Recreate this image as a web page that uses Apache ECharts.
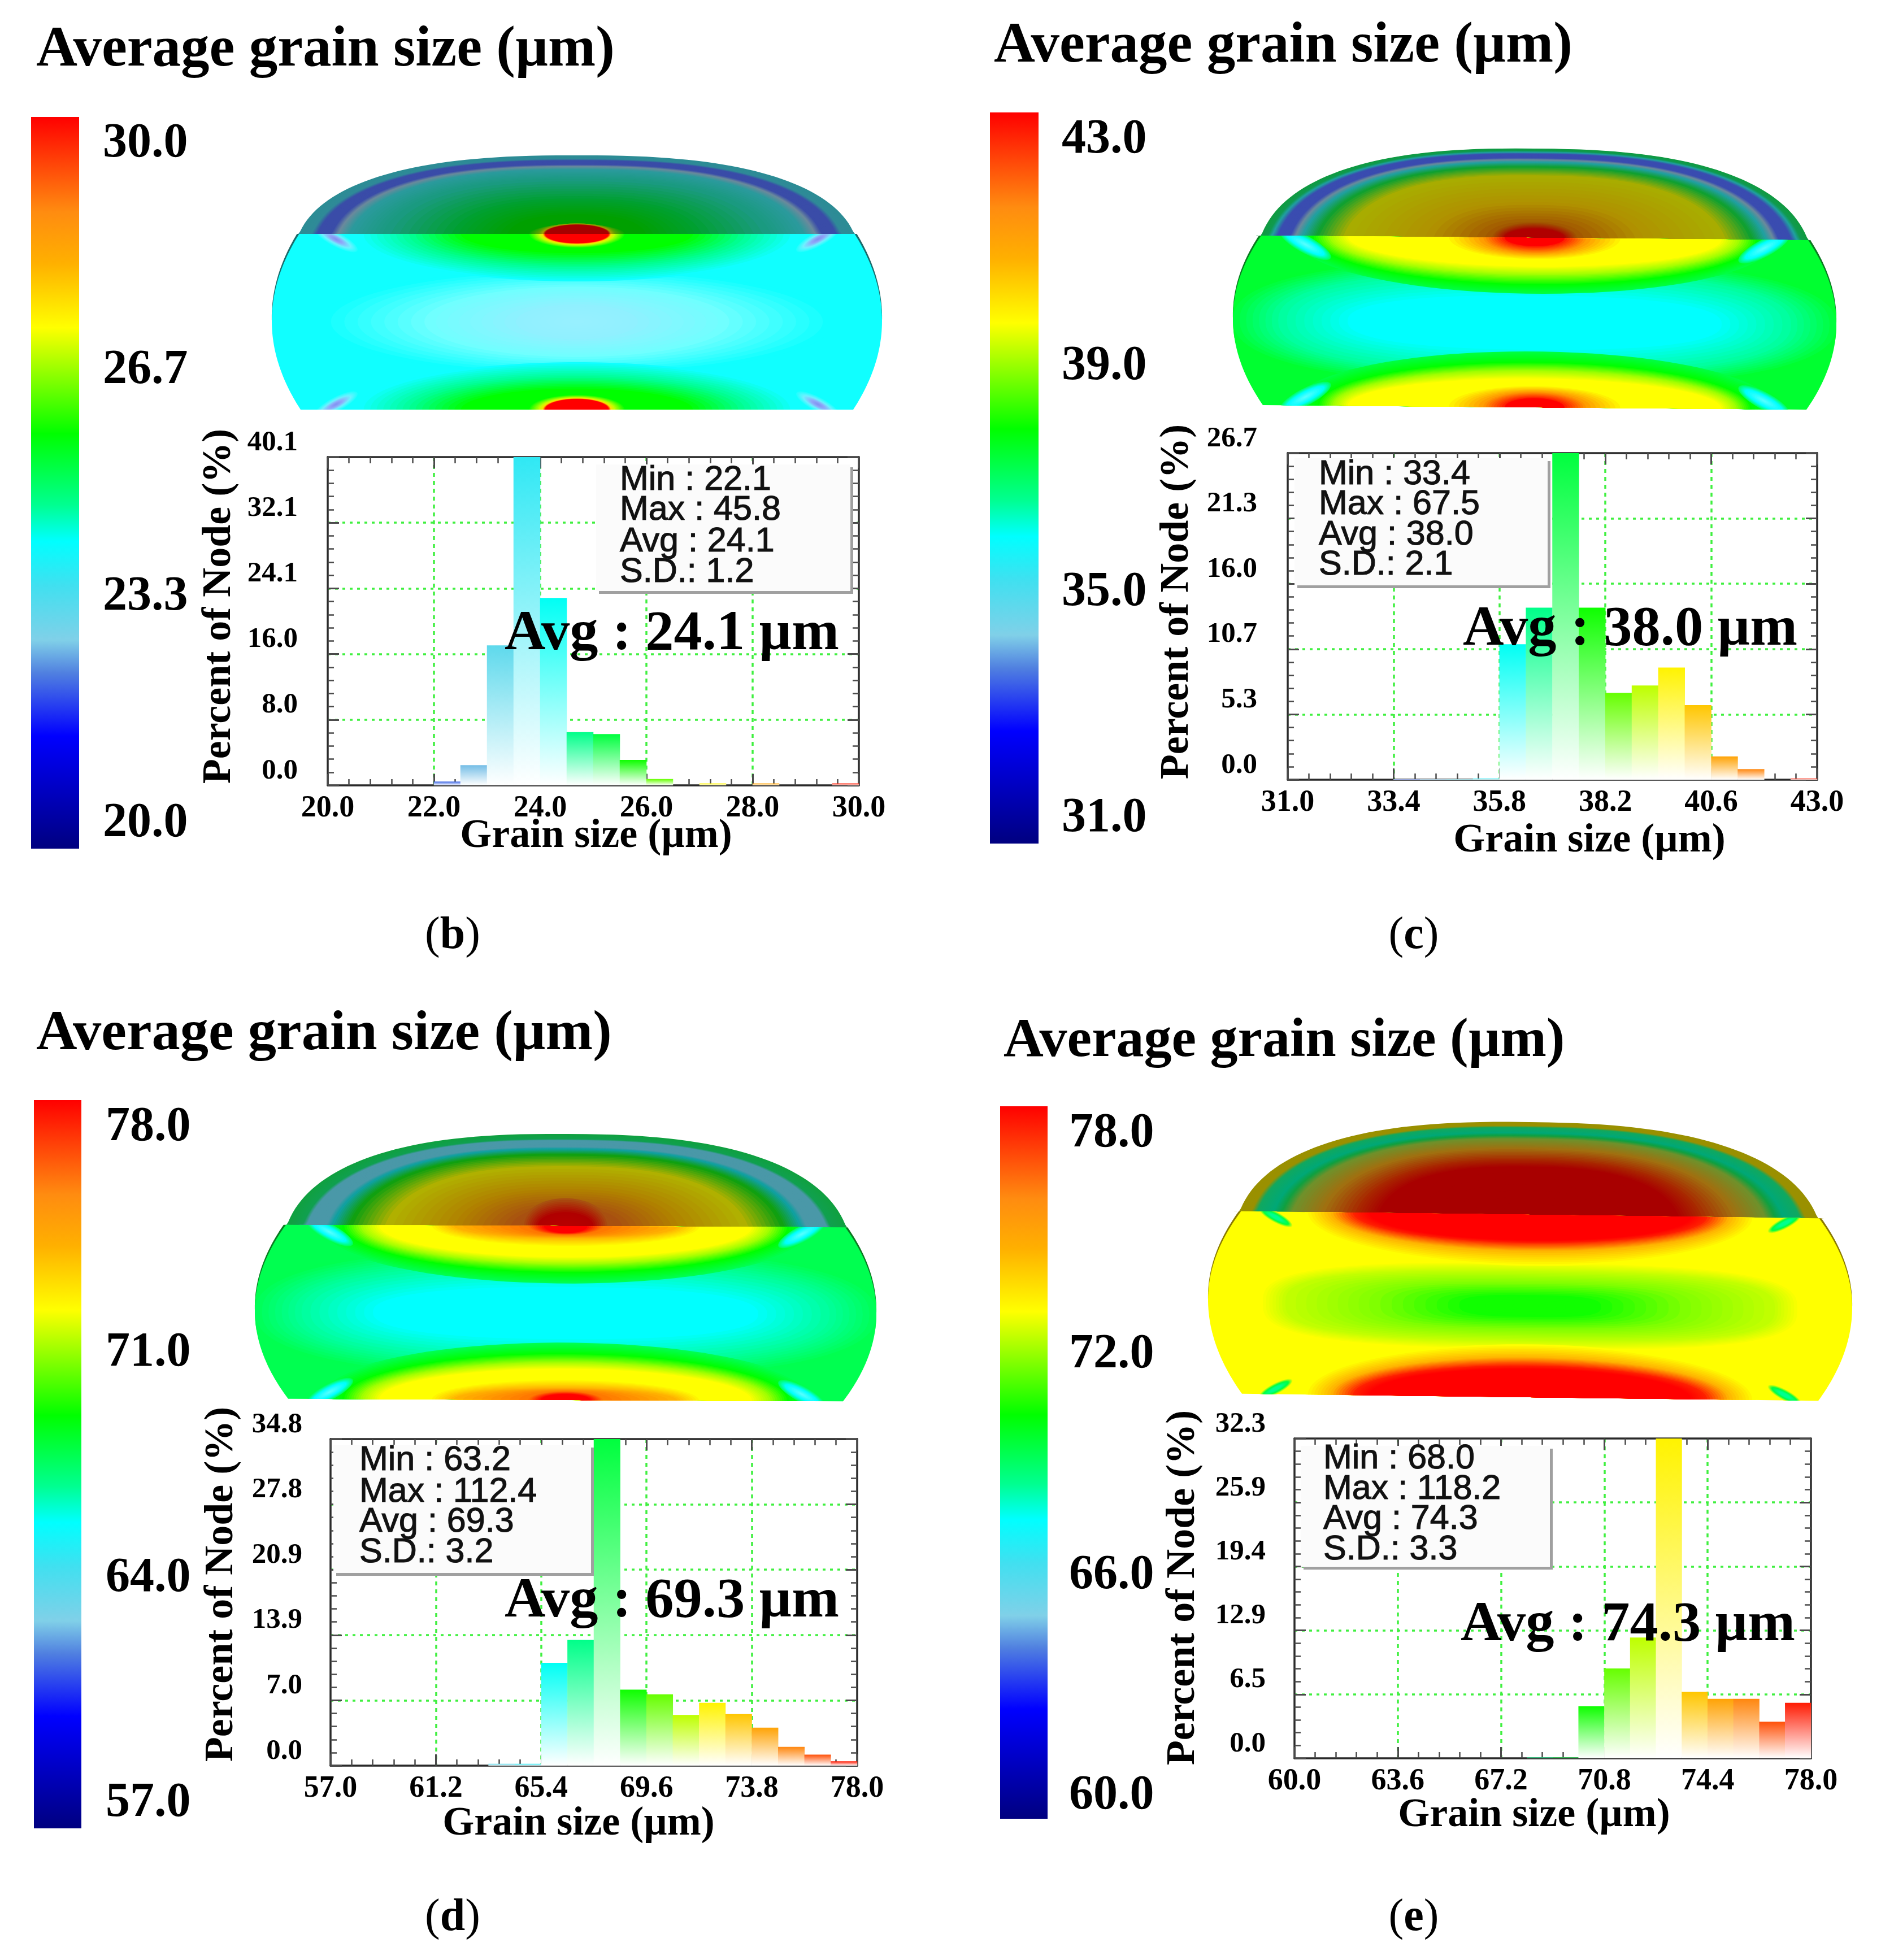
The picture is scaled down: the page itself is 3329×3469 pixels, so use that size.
<!DOCTYPE html>
<html><head><meta charset="utf-8">
<style>html,body{margin:0;padding:0;background:#fff}#c{width:3329px;height:3469px}</style>
<script src="https://cdn.jsdelivr.net/npm/echarts@6/dist/echarts.min.js"></script>
</head><body><div id="c"></div>
<script>
// ---------- data ----------
const titleText = 'Average grain size (µm)';
const xTitle = 'Grain size (µm)';
const yTitle = 'Percent of Node (%)';

const valuesB = [0,0,0,0,0.46,2.46,17.1,40.1,22.9,6.5,6.26,3.1,0.77,0,0.25,0,0.25,0,0,0.25];
const valuesC = [0,0,0,0,0.05,0.05,0.05,0.1,11.08,14.07,26.7,14.07,7.1,7.7,9.17,6.1,1.9,0.87,0,0.1];
const valuesD = [0,0,0,0,0,0,0.2,0.2,10.96,13.4,34.8,8.1,7.6,5.4,6.7,5.5,4.05,2.0,1.17,0.46];
const valuesE = [0,0,0,0,0,0,0,0,0,0.08,0.08,5.25,9.07,12.2,32.3,6.7,6.0,6.0,3.7,5.6];

const xTicksB = ['20.0','22.0','24.0','26.0','28.0','30.0'];
const xTicksC = ['31.0','33.4','35.8','38.2','40.6','43.0'];
const xTicksD = ['57.0','61.2','65.4','69.6','73.8','78.0'];
const xTicksE = ['60.0','63.6','67.2','70.8','74.4','78.0'];

const yTicksB = ['0.0','8.0','16.0','24.1','32.1','40.1'];
const yTicksC = ['0.0','5.3','10.7','16.0','21.3','26.7'];
const yTicksD = ['0.0','7.0','13.9','20.9','27.8','34.8'];
const yTicksE = ['0.0','6.5','12.9','19.4','25.9','32.3'];

const barTicksB = ['20.0','23.3','26.7','30.0'];
const barTicksC = ['31.0','35.0','39.0','43.0'];
const barTicksD = ['57.0','64.0','71.0','78.0'];
const barTicksE = ['60.0','66.0','72.0','78.0'];

const statsB = ['Min : 22.1','Max : 45.8','Avg : 24.1','S.D.: 1.2'];
const statsC = ['Min : 33.4','Max : 67.5','Avg : 38.0','S.D.: 2.1'];
const statsD = ['Min : 63.2','Max : 112.4','Avg : 69.3','S.D.: 3.2'];
const statsE = ['Min : 68.0','Max : 118.2','Avg : 74.3','S.D.: 3.3'];

const avgB = 'Avg : 24.1 µm', avgC = 'Avg : 38.0 µm', avgD = 'Avg : 69.3 µm', avgE = 'Avg : 74.3 µm';

// ---------- colour scale (fraction from the top of the colour bar) ----------
const colorStops = [[0,'#ff0000'],[0.13,'#ff8c10'],[0.2,'#ffb000'],[0.288,'#ffff00'],[0.433,'#00ff00'],
  [0.53,'#00ff90'],[0.58,'#00ffff'],[0.64,'#40e0f0'],[0.715,'#80d0e8'],[0.76,'#5080e0'],[0.846,'#0000ff'],[1,'#000080']];

function hex(c){return [1,3,5].map(i=>parseInt(c.substr(i,2),16));}
function mix(c1,c2,f){const a=hex(c1),b=hex(c2);return 'rgb('+a.map((v,i)=>Math.round(v+(b[i]-v)*f)).join(',')+')';}
function scaleColor(t){
  for(let i=1;i<colorStops.length;i++){
    if(t<=colorStops[i][0]){const p=colorStops[i-1],q=colorStops[i];return mix(p[1],q[1],(t-p[0])/(q[0]-p[0]));}
  }
  return colorStops[colorStops.length-1][1];
}

// ---------- layout ----------
const F='"Liberation Serif"';
const panels=[
 {letter:'b',values:valuesB,xT:xTicksB,yT:yTicksB,barT:barTicksB,stats:statsB,avg:avgB,
  title:[64,90,101], cap:[801,1657],
  plot:[580,809,1520,1390], yMargin:53, xT_c:[1055,1480], yT_c:[388,1073],
  bar:[55,207,140,1502], barLab:[181,255,1458],
  box:[1055,822,1505,1046], boxTx:1097, boxY:[850,903,959,1013], avgPos:[893,1123],
  s:{cx:1021,top:275,flat:414,bottom:725,L:529,R:1512,W:540,mid:568,botHW:489,tilt:0,edge:'#1a6a6a'},
  dome:[[1,'#2c8c94'],[.955,'#2f8a98'],[.935,'#3a4ca8'],[.885,'#3a4ca8'],[.86,'#6a8a9c'],[.82,'#2a9a9c'],[.7,'#1a9a80'],[.45,'#00a030'],[.25,'#00a000'],[0,'#00a000']],
  domeHot:[[.16,.055,'#00a000'],[.125,.06,'#60a000'],[.112,.056,'#a8a000'],[.104,.052,'#a80000'],[0,0,'#a80000']],
  base:'#10ffff',
  center:{n:2,c:[[.85,.3,'#10ffff'],[.5,.2,'#70ffff'],[.2,.1,'#90f0ff'],[0,0,'#98f0ff']]},
  hotTop:[[.72,.27,'#10ffff'],[.55,.19,'#00ff90'],[.38,.11,'#00ff00'],[.16,.08,'#00ff00'],[.125,.065,'#c0ff00'],[.112,.058,'#ffe000'],[.104,.052,'#ff0000'],[0,0,'#ff0000']],
  hotBot:[[.72,.27,'#10ffff'],[.55,.19,'#00ff90'],[.38,.12,'#00ff00'],[.16,.085,'#00ff00'],[.125,.07,'#c0ff00'],[.112,.064,'#ffe000'],[.104,.06,'#ff0000'],[0,0,'#ff0000']],
  cornerU:.79,cornerV:.03,
  corner:[[.08,.04,'#20ffff'],[.055,.024,'#70f0ff'],[.025,.012,'#90a8f8'],[0,0,'#8090f0']]},
 {letter:'c',values:valuesC,xT:xTicksC,yT:yTicksC,barT:barTicksC,stats:statsC,avg:avgC,
  title:[1759,83,101], cap:[2502,1657],
  plot:[2279,802,3216,1380], yMargin:54, xT_c:[2813,1488], yT_c:[2083,1065],
  bar:[1752,199,1838,1493], barLab:[1878,248,1449],
  box:[2291,811,2739,1036], boxTx:2334, boxY:[840,893,947,1000], avgPos:[2589,1115],
  s:{cx:2716,top:263,flat:421,bottom:721,L:2232,R:3200,W:534,mid:568,botHW:481,tilt:4.5,edge:'#0a7a20'},
  dome:[[1,'#109a40'],[.975,'#109a50'],[.96,'#20a0a0'],[.94,'#3a4cb0'],[.895,'#3a4cb0'],[.875,'#6a8a9c'],[.85,'#20a0a0'],[.8,'#10a030'],[.7,'#a8ac00'],[.4,'#b09000'],[.15,'#a05000'],[0,'#a05000']],
  domeHot:[[.14,.09,'#a05000'],[.105,.06,'#a81000'],[.096,.052,'#b00000'],[0,0,'#b00000']],
  base:'#00ff30',
  center:{n:2.4,c:[[1.02,.38,'#00ff30'],[.85,.3,'#00ffa0'],[.62,.16,'#00ffff'],[0,0,'#00ffff']]},
  hotTop:[[.8,.33,'#00ff40'],[.74,.28,'#00ff00'],[.68,.22,'#a0ff00'],[.62,.17,'#ffff00'],[.3,.13,'#ffff00'],[.17,.09,'#ff9000'],[.1,.05,'#ff1000'],[.096,.045,'#ff0000'],[0,0,'#ff0000']],
  hotBot:[[.8,.33,'#00ff40'],[.72,.27,'#00ff00'],[.67,.22,'#a0ff00'],[.62,.17,'#ffff00'],[.3,.13,'#ffff00'],[.17,.09,'#ff9000'],[.1,.055,'#ff1000'],[.096,.05,'#ff0000'],[0,0,'#ff0000']],
  cornerU:.76,cornerV:.05,
  corner:[[.095,.05,'#00ff60'],[.07,.03,'#00ffff'],[0,0,'#60ffff']]},
 {letter:'d',values:valuesD,xT:xTicksD,yT:yTicksD,barT:barTicksD,stats:statsD,avg:avgD,
  title:[64,1831,100.5], cap:[801,3395],
  plot:[585,2547,1517,3125], yMargin:50, xT_c:[1024,3228], yT_c:[392,2804],
  bar:[60,1947,144,3236], barLab:[186,1996,3192],
  box:[590,2557,1046,2784], boxTx:636, boxY:[2585,2641,2694,2748], avgPos:[893,2835],
  s:{cx:1001,top:2007,flat:2170,bottom:2478,L:508,R:1498,W:550,mid:2322,botHW:491,tilt:2.5,edge:'#0a7a20'},
  dome:[[1,'#10a040'],[.945,'#10a050'],[.93,'#4a98a8'],[.86,'#4a98a8'],[.84,'#10a0a0'],[.78,'#10a010'],[.65,'#b0b000'],[.4,'#b08000'],[.2,'#a85010'],[0,'#a85010']],
  domeHot:[[.14,.16,'#a85010'],[.09,.08,'#b00000'],[0,0,'#b80000']],
  base:'#00ff50',
  center:{n:2.4,c:[[1.02,.38,'#00ff50'],[.85,.28,'#00ffa0'],[.62,.15,'#00ffff'],[0,0,'#00ffff']]},
  hotTop:[[.8,.33,'#00ff50'],[.72,.27,'#00ff00'],[.66,.22,'#a0ff00'],[.6,.18,'#ffff00'],[.44,.12,'#ffff00'],[.36,.07,'#ffb000'],[.12,.05,'#ff7000'],[.07,.04,'#ff0000'],[0,0,'#ff0000']],
  hotBot:[[.8,.33,'#00ff50'],[.72,.27,'#00ff00'],[.66,.22,'#a0ff00'],[.6,.18,'#ffff00'],[.44,.12,'#ffff00'],[.36,.07,'#ffb000'],[.12,.05,'#ff7000'],[.08,.035,'#ff0000'],[0,0,'#ff0000']],
  cornerU:.76,cornerV:.04,
  corner:[[.085,.045,'#00ff60'],[.06,.026,'#00ffff'],[0,0,'#60ffff']]},
 {letter:'e',values:valuesE,xT:xTicksE,yT:yTicksE,barT:barTicksE,stats:statsE,avg:avgE,
  title:[1776,1844,98], cap:[2502,3395],
  plot:[2291,2546,3205,3112], yMargin:51, xT_c:[2715,3213], yT_c:[2094,2810],
  bar:[1770,1958,1854,3219], barLab:[1891,2007,3179],
  box:[2302,2559,2743,2773], boxTx:2342, boxY:[2582,2636,2689,2743], avgPos:[2585,2877],
  s:{cx:2708,top:1986,flat:2150,bottom:2473,L:2194,R:3217,W:570,mid:2307,botHW:510,tilt:7,edge:'#8a7a00'},
  dome:[[1,'#9a9000'],[.96,'#9a9000'],[.94,'#10a860'],[.885,'#00a878'],[.855,'#10a040'],[.82,'#70902a'],[.72,'#a07010'],[.6,'#a82800'],[.52,'#a80000'],[0,'#a80000']],
  domeHot:null,
  base:'#ffff00',
  center:{n:3,c:[[.84,.24,'#ffff00'],[.76,.19,'#c0ff00'],[.5,.13,'#80ff00'],[.22,.06,'#10ff00'],[0,0,'#10ff00']]},
  hotTop:[[.7,.28,'#ffff00'],[.62,.2,'#ffb000'],[.55,.155,'#ff2000'],[.5,.14,'#ff0000'],[0,0,'#ff0000']],
  hotBot:[[.7,.29,'#ffff00'],[.62,.22,'#ffb000'],[.55,.175,'#ff2000'],[.5,.155,'#ff0000'],[0,0,'#ff0000']],
  cornerU:.79,cornerV:.03,
  corner:[[.06,.03,'#ffff00'],[.045,.018,'#00ff40'],[.02,.008,'#00ff90'],[0,0,'#00ff90']]}
];

// ---------- shaded section drawn as stacks of contour polygons ----------
const SEG=8, N=90;
const DOME_N=2.5, DOME_A=1.02, DOME_C=0.2995, DOME_H=1.428;
function hw(s,y){
  if(y<s.mid){const f=(y-s.mid)/(s.flat-s.mid);const t=(s.R-s.L)/2;return s.W-(s.W-t)*f*f;}
  const f=(y-s.mid)/(s.bottom-s.mid);return s.W-(s.W-s.botHW)*f*f;
}
function tilted(s,x,y){return [x,y+s.tilt*(x-s.cx)/s.W];}
function poly(points,fill,z){return {type:'polygon',silent:true,z:z||1,shape:{points:points},style:{fill:fill}};}
function stack(out,s,o){
  const H=s.bottom-s.flat,c=o.c,n=o.n||2,rad=(o.rot||0)*Math.PI/180;
  const ox=s.cx+(o.u||0)*s.W, oy=s.flat+(o.v||0)*H;
  for(let i=0;i<c.length-1;i++){
    for(let k=0;k<SEG;k++){
      const f=k/SEG,a=c[i][0]+(c[i+1][0]-c[i][0])*f,b=c[i][1]+(c[i+1][1]-c[i][1])*f;
      if(a<=0.0005) continue;
      const pts=[];
      for(let j=0;j<N;j++){
        const th=j/N*2*Math.PI,co=Math.cos(th),si=Math.sin(th);
        const dx=Math.sign(co)*Math.pow(Math.abs(co),2/n)*a*s.W, dy=Math.sign(si)*Math.pow(Math.abs(si),2/n)*b*H;
        let x=ox+dx*Math.cos(rad)-dy*Math.sin(rad), y=oy+dx*Math.sin(rad)+dy*Math.cos(rad);
        if(o.dome){y=Math.min(y,s.flat);}
        else{
          y=Math.max(s.flat,Math.min(s.bottom,y));
          const h=hw(s,y);x=Math.max(s.cx-h,Math.min(s.cx+h,x));
        }
        pts.push(tilted(s,x,y));
      }
      out.push(poly(pts,mix(c[i][2],c[i+1][2],f)));
    }
  }
}
function section(out,p){
  const s=p.s;
  // dark edge seen beyond the cut
  const side=[];
  for(let j=0;j<=30;j++){const y=s.flat+(s.mid-s.flat)*j/30;side.push(tilted(s,s.cx+hw(s,y)+4*(1-j/30),y));}
  for(let j=30;j>=0;j--){const y=s.flat+(s.mid-s.flat)*j/30;side.push(tilted(s,s.cx-hw(s,y)-4*(1-j/30),y));}
  out.push(poly(side,s.edge));
  // dome: outer rim profile, with the rings as copies of it scaled about the middle of the cut
  const dc=(s.L+s.R)/2,dw=(s.R-s.L)/2,dh=s.flat-s.top;
  const rim=[];
  for(let j=0;j<=N;j++){
    const th=j/N*Math.PI,co=Math.cos(th),si=Math.sin(th);
    const rx=DOME_A*dw*Math.sign(co)*Math.pow(Math.abs(co),2/DOME_N);
    const ry=Math.max(0,dh*DOME_H*(Math.pow(si,2/DOME_N)-DOME_C));
    rim.push([rx,ry]);
  }
  for(let i=0;i<p.dome.length-1;i++){
    const A=p.dome[i],B=p.dome[i+1];
    for(let k=0;k<SEG;k++){
      const f=k/SEG,t=A[0]+(B[0]-A[0])*f;
      if(t<=0.001) continue;
      out.push(poly(rim.map(q=>tilted(s,dc+t*q[0],s.flat-t*q[1])),mix(A[1],B[1],f)));
    }
  }
  if(p.domeHot) stack(out,s,{dome:true,c:p.domeHot});
  // cut face
  const body=[];
  for(let j=0;j<=60;j++){const y=s.flat+(s.bottom-s.flat)*j/60;body.push(tilted(s,s.cx+hw(s,y),y));}
  for(let j=60;j>=0;j--){const y=s.flat+(s.bottom-s.flat)*j/60;body.push(tilted(s,s.cx-hw(s,y),y));}
  out.push(poly(body,p.base));
  stack(out,s,{u:0,v:.5,n:p.center.n,c:p.center.c});
  stack(out,s,{u:0,v:0,c:p.hotTop});
  stack(out,s,{u:0,v:1,c:p.hotBot});
  const U=p.cornerU,V=p.cornerV;
  [[-U,V,28],[U,V,-28],[-U,1-V,-28],[U,1-V,28]].forEach(q=>{
    stack(out,s,{u:q[0],v:q[1],rot:q[2],c:p.corner});
  });
}

// ---------- option ----------
const grids=[],xAxes=[],yAxes=[],series=[],graphic=[];
const GRID='#40f040',AX='#2a2a2a',TK='#4a4a4a';
function text(t,x,y,font,al,extra,styleExtra){
  return Object.assign({type:'text',silent:true,z:50,x:x,y:y,style:Object.assign({text:t,font:font,fill:'#000',align:al||'left',textAlign:al||'left',verticalAlign:'middle',textVerticalAlign:'middle'},styleExtra||{})},extra||{});
}
panels.forEach(p=>{
  const [x0,y0,x1,y1]=p.plot, bw=(x1-x0)/20, yMax=parseFloat(p.yT[5]), g=grids.length;
  grids.push({left:x0,top:y0,width:x1-x0,height:y1-y0,show:false});
  const dx=p.xT_c[0]-(x0+x1)/2, dy=(y0+y1)/2-p.yT_c[1];
  const tFont={color:'#000',fontFamily:F,fontWeight:'bold'};
  const line={lineStyle:{color:AX,width:3.5}};
  xAxes.push({gridIndex:g,type:'value',min:0,max:20,interval:4,position:'bottom',
    name:xTitle,nameLocation:'middle',nameGap:p.xT_c[1]-y1-36,nameMoveOverlap:false,
    nameTextStyle:Object.assign({fontSize:72,padding:dx>0?[0,0,0,2*dx]:[0,-2*dx,0,0]},tFont),
    axisLine:Object.assign({show:true,onZero:false},line),
    axisTick:{show:true,inside:true,length:20,lineStyle:{color:TK,width:3}},
    minorTick:{show:true,splitNumber:5,length:11,lineStyle:{color:TK,width:2.5}},
    splitLine:{show:true,showMinLine:false,showMaxLine:false,lineStyle:{color:GRID,width:3.5,type:[7,7]}},
    axisLabel:Object.assign({fontSize:54,margin:14,formatter:(v)=>p.xT[Math.round(v/4)],hideOverlap:false,showMinLabel:true,showMaxLabel:true},tFont)});
  xAxes.push({gridIndex:g,type:'value',min:0,max:20,interval:4,position:'top',
    axisLine:Object.assign({show:true,onZero:false},line),
    axisTick:{show:true,inside:true,length:20,lineStyle:{color:TK,width:3}},
    minorTick:{show:true,splitNumber:5,length:11,lineStyle:{color:TK,width:2.5}},
    splitLine:{show:false},axisLabel:{show:false}});
  yAxes.push({gridIndex:g,type:'value',min:0,max:yMax,interval:yMax/5,position:'left',
    name:yTitle,nameLocation:'middle',nameGap:x0-p.yT_c[0]-36,nameMoveOverlap:false,
    nameTextStyle:Object.assign({fontSize:72,padding:dy>0?[0,0,0,2*dy]:[0,-2*dy,0,0]},tFont),
    axisLine:Object.assign({show:true,onZero:false},line),
    axisTick:{show:true,inside:true,length:20,lineStyle:{color:TK,width:3}},
    minorTick:{show:true,splitNumber:5,length:11,lineStyle:{color:TK,width:2.5}},
    splitLine:{show:true,showMinLine:false,showMaxLine:false,lineStyle:{color:GRID,width:3.5,type:[5,8]}},
    axisLabel:Object.assign({fontSize:51,margin:p.yMargin,verticalAlign:'bottom',
      formatter:(v)=>p.yT[Math.round(v/(yMax/5))],showMinLabel:true,showMaxLabel:true},tFont)});
  yAxes.push({gridIndex:g,type:'value',min:0,max:yMax,interval:yMax/5,position:'right',
    axisLine:Object.assign({show:true,onZero:false},line),
    axisTick:{show:true,inside:true,length:20,lineStyle:{color:TK,width:3}},
    minorTick:{show:true,splitNumber:5,length:11,lineStyle:{color:TK,width:2.5}},
    splitLine:{show:false},axisLabel:{show:false}});
  const xi=xAxes.length-2, yi=yAxes.length-2;
  series.push({type:'bar',xAxisIndex:xi,yAxisIndex:yi,barWidth:bw+0.5,silent:true,animation:false,z:3,
    data:p.values.map((v,i)=>({value:[i+.5,v],itemStyle:{color:new echarts.graphic.LinearGradient(0,0,0,1,
      [{offset:0,color:scaleColor(1-(i+.5)/20)},{offset:1,color:'#ffffff'}])}})).filter(d=>d.value[1]>0)});

  // colour bar labels on their own category axis
  const gb=grids.length;
  grids.push({left:p.barLab[0]-1,top:p.barLab[1],width:1,height:p.barLab[2]-p.barLab[1],show:false});
  xAxes.push({gridIndex:gb,type:'value',show:false});
  yAxes.push({gridIndex:gb,type:'category',position:'right',boundaryGap:false,data:p.barT,
    axisLine:{show:false},axisTick:{show:false},splitLine:{show:false},
    axisLabel:Object.assign({fontSize:86,margin:1,align:'left',interval:0,showMinLabel:true,showMaxLabel:true},tFont)});

  // decoration and text
  section(graphic,p);
  const [bx0,by0,bx1,by1]=p.bar;
  graphic.push({type:'rect',silent:true,z:5,shape:{x:bx0,y:by0,width:bx1-bx0,height:by1-by0},
    style:{fill:new echarts.graphic.LinearGradient(0,0,0,1,colorStops.map(q=>({offset:q[0],color:q[1]})))}});
  graphic.push(text(titleText,p.title[0],p.title[1],'bold '+p.title[2]+'px '+F));
  const [b0,b1,b2,b3]=p.box;
  graphic.push({type:'rect',silent:true,z:40,shape:{x:b0+5,y:b1+5,width:b2-b0,height:b3-b1},style:{fill:'#a0a0a0'}});
  graphic.push({type:'rect',silent:true,z:41,shape:{x:b0,y:b1,width:b2-b0,height:b3-b1},style:{fill:'#fbfbfb'}});
  p.stats.forEach((t,i)=>graphic.push(text(t,p.boxTx,p.boxY[i],'61px "Liberation Sans"','left',{z:42},{fill:'#111',stroke:'#222',lineWidth:1.2})));
  graphic.push(text(p.avg,p.avgPos[0],p.avgPos[1],'bold 100.5px '+F,'left',{z:60}));
  graphic.push({type:'text',silent:true,z:50,x:p.cap[0],y:p.cap[1],style:{
    text:'{r|(}{b|'+p.letter+'}{r|)}',align:'center',textAlign:'center',verticalAlign:'middle',textVerticalAlign:'middle',
    rich:{r:{fontSize:80,fontFamily:F,fill:'#000',color:'#000'},b:{fontSize:80,fontFamily:F,fontWeight:'bold',fill:'#000',color:'#000'}}}});
});

const chart=echarts.init(document.getElementById('c'),null,{renderer:'canvas',width:3329,height:3469});
chart.setOption({animation:false,backgroundColor:'#ffffff',grid:grids,xAxis:xAxes,yAxis:yAxes,series:series,graphic:{elements:graphic}});
</script></body></html>
